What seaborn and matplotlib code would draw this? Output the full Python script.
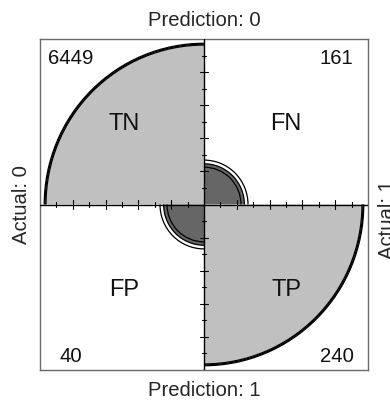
import numpy as np
import matplotlib
matplotlib.use("Agg")
from matplotlib import pyplot as plt
from matplotlib.patches import Wedge, Arc
import seaborn as sns

# confusion matrix (caret-style fourfold plot)
cell_names = ["TN", "FN", "FP", "TP"]
cell_counts = [6449, 161, 40, 240]
cell_angles = [(90, 180), (0, 90), (180, 270), (270, 360)]
col_labels = ["Prediction: 0", "Prediction: 1"]
row_labels = ["Actual: 0", "Actual: 1"]
conf_level = 0.95

sns.set_style("white")
plt.rcParams["font.family"] = ["Liberation Sans", "DejaVu Sans"]

tn, fn, fp, tp = cell_counts
odds = tn * tp / (fn * fp)
se = np.sqrt(sum(1.0 / c for c in cell_counts))
z = 1.959964


def std_cells(theta):
    # table standardised to equal margins, same odds ratio
    s = np.sqrt(theta)
    big = s / (1 + s)
    small = 1 / (1 + s)
    return [big, small, small, big]


std_val = std_cells(odds)
std_lo = std_cells(odds * np.exp(-z * se))
std_hi = std_cells(odds * np.exp(z * se))

light = "#c0c0c0"
dark = "#666666"

fig = plt.figure(figsize=(3.9, 4.01), dpi=100)
ax = fig.add_axes([40 / 390, 31 / 401, 328 / 390, 331 / 401])
ax.set_xlim(-1, 1)
ax.set_ylim(-1, 1)
ax.set_xticks([])
ax.set_yticks([])
for sp in ax.spines.values():
    sp.set_color("#6a6a6a")
    sp.set_linewidth(1.0)

for i, name in enumerate(cell_names):
    t1, t2 = cell_angles[i]
    col = light if name in ("TN", "TP") else dark
    r = np.sqrt(std_val[i])
    ax.add_patch(Wedge((0, 0), r, t1, t2, facecolor=col, edgecolor="none", zorder=1))
    for v in (std_val[i], std_lo[i], std_hi[i]):
        rr = np.sqrt(v)
        ax.add_patch(Arc((0, 0), 2 * rr, 2 * rr, theta1=t1, theta2=t2,
                         color="black", lw=0.9, zorder=2))

# centre cross with ticks
ax.axhline(0, color="black", lw=1.0, zorder=3)
ax.axvline(0, color="black", lw=1.0, zorder=3)
for k in range(-9, 10):
    if k == 0:
        continue
    p = k / 10
    h = 0.025 if k % 2 == 0 else 0.014
    ax.plot([p, p], [-h, h], color="black", lw=0.8, zorder=3)
    ax.plot([-h, h], [p, p], color="black", lw=0.8, zorder=3)

# cell names and counts
name_pos = [(-0.49, 0.45), (0.5, 0.45), (-0.49, -0.55), (0.5, -0.55)]
count_pos = [(-0.814, 0.849), (0.808, 0.849), (-0.814, -0.952), (0.808, -0.952)]
for i, name in enumerate(cell_names):
    ax.text(*name_pos[i], name, ha="center", va="baseline", fontsize=17, color="#111111", zorder=4)
    ax.text(*count_pos[i], str(cell_counts[i]), ha="center", va="baseline",
            fontsize=14.6, color="#111111", zorder=4)

ax.text(0, 1.112, col_labels[0], ha="center", va="center", fontsize=14.6, clip_on=False)
ax.text(0, -1.121, col_labels[1], ha="center", va="center", fontsize=14.6, clip_on=False)
ax.text(-1.113, 0, row_labels[0], ha="center", va="center", rotation=90, fontsize=14.6, clip_on=False)
ax.text(1.116, -0.088, row_labels[1], ha="center", va="center", rotation=90, fontsize=14.6, clip_on=False)

plt.savefig("out.png", dpi=100)
